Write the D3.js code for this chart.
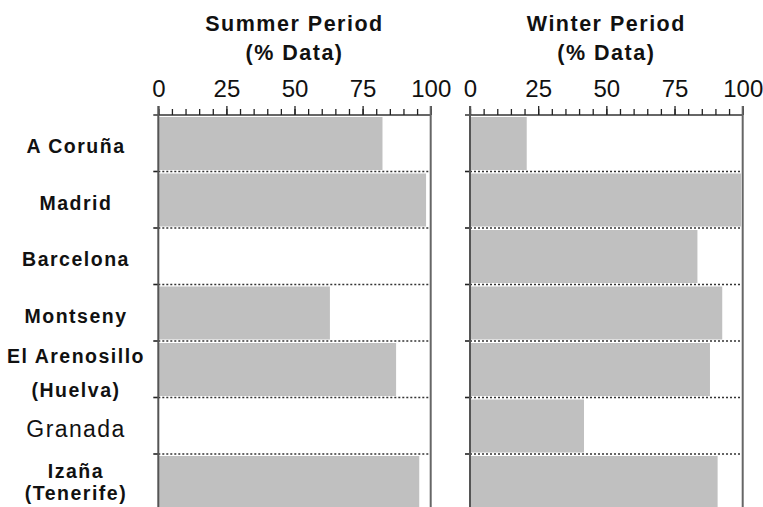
<!DOCTYPE html>
<html>
<head>
<meta charset="utf-8">
<script src="https://cdn.jsdelivr.net/npm/d3@7"></script>
<style>
  html, body { margin: 0; padding: 0; background: #fff; }
  svg { display: block; }
  text { font-family: "Liberation Sans", Arial, Helvetica, sans-serif; fill: #111; }
</style>
</head>
<body>
<svg id="chart" width="763" height="507"></svg>
<script>
// ---- data ----
const cities = ["A Coruña", "Madrid", "Barcelona", "Montseny", "El Arenosillo (Huelva)", "Granada", "Izaña (Tenerife)"];
const cityLines = [["A Coruña"], ["Madrid"], ["Barcelona"], ["Montseny"], ["El Arenosillo", "(Huelva)"], ["Granada"], ["Izaña", "(Tenerife)"]];
const cityBold = [true, true, true, true, true, false, true];
const summerValues = [82.3, 98.3, 0, 63, 87.3, 0, 95.8];
const winterValues = [20.8, 99.4, 83.4, 92.5, 88, 41.8, 90.8];
const panelTitles = [["Summer Period", "(% Data)"], ["Winter Period", "(% Data)"]];
const majorTicks = [0, 25, 50, 75, 100];
const minorTicks = d3.range(0, 101, 5);

// ---- layout ----
const svg = d3.select("#chart");
const yTop = 115, yBottom = 510.5;
const y = d3.scaleBand().domain(cities).range([yTop, yBottom]).padding(0);

const panels = [
  { values: summerValues, title: panelTitles[0], x: d3.scaleLinear().domain([0, 100]).range([158.3, 430.7]) },
  { values: winterValues, title: panelTitles[1], x: d3.scaleLinear().domain([0, 100]).range([470, 742.7]) }
];

panels.forEach((p, pi) => {
  const g = svg.append("g");
  const x = p.x;
  const x0 = x(0), x1 = x(100);

  // bars
  g.selectAll("rect.bar")
    .data(cities.map((c, i) => ({ c, v: p.values[i] })))
    .join("rect")
    .attr("class", "bar")
    .attr("x", x0)
    .attr("y", d => y(d.c) + 2)
    .attr("width", d => Math.max(0, x(d.v) - x0))
    .attr("height", y.bandwidth() - 3.5)
    .attr("fill", "#c0c0c0");

  // dotted row separators
  g.selectAll("line.sep")
    .data(cities.slice(1))
    .join("line")
    .attr("class", "sep")
    .attr("x1", x0).attr("x2", x1)
    .attr("y1", d => y(d)).attr("y2", d => y(d))
    .attr("stroke", "#333")
    .attr("stroke-width", 1.3)
    .attr("stroke-dasharray", "2,2");

  // left row ticks
  g.selectAll("line.rtick")
    .data(cities.slice(1))
    .join("line")
    .attr("class", "rtick")
    .attr("x1", x0 - 5).attr("x2", x0)
    .attr("y1", d => y(d)).attr("y2", d => y(d))
    .attr("stroke", "#222")
    .attr("stroke-width", 1.6);

  // top horizontal line
  g.append("line")
    .attr("x1", x0 - 5).attr("x2", x1)
    .attr("y1", yTop).attr("y2", yTop)
    .attr("stroke", "#333").attr("stroke-width", 1.6);

  // minor ticks (top axis)
  const minorAxis = d3.axisTop(x).tickValues(minorTicks).tickSize(6).tickSizeOuter(0).tickFormat("");
  const ga = g.append("g").attr("transform", `translate(0,${yTop})`).call(minorAxis);
  ga.select(".domain").remove();
  ga.selectAll(".tick line").attr("stroke", "#222").attr("stroke-width", 1.3);

  // major ticks + labels
  const majorAxis = d3.axisTop(x).tickValues(majorTicks).tickSize(9).tickSizeOuter(0).tickPadding(9.5).tickFormat(d3.format("d"));
  const gm = g.append("g").attr("transform", `translate(0,${yTop})`).call(majorAxis);
  gm.select(".domain").remove();
  gm.selectAll(".tick line").attr("stroke", "#222").attr("stroke-width", 1.3);
  gm.selectAll(".tick text")
    .attr("font-size", 24)
    .attr("font-family", "'Liberation Sans', Arial, sans-serif")
    .attr("fill", "#111");

  // left axis line and right border
  g.append("line")
    .attr("x1", x0).attr("x2", x0)
    .attr("y1", yTop - 9).attr("y2", yBottom)
    .attr("stroke", "#555").attr("stroke-width", 2);
  g.append("line")
    .attr("x1", x1).attr("x2", x1)
    .attr("y1", yTop - 9).attr("y2", yBottom)
    .attr("stroke", "#666").attr("stroke-width", 2);

  // title
  const cx = (x0 + x1) / 2;
  g.selectAll("text.title")
    .data(p.title)
    .join("text")
    .attr("class", "title")
    .attr("x", cx)
    .attr("y", (d, i) => 30.7 + i * 29.5)
    .attr("text-anchor", "middle")
    .attr("font-size", 21.5)
    .attr("font-weight", "bold")
    .attr("letter-spacing", "1.5px")
    .text(d => d);
});

// row labels
const labelX = 76;
cities.forEach((c, i) => {
  const lines = cityLines[i];
  const cy = y(c) + y.bandwidth() / 2;
  const isLast = i === cities.length - 1;
  const offs = lines.length === 1 ? [3] : (isLast ? [-11.5, 10.3] : [-12.9, 20.5]);
  const bold = cityBold[i];
  lines.forEach((ln, j) => {
    svg.append("text")
      .attr("x", labelX)
      .attr("y", cy + offs[j])
      .attr("dy", "0.36em")
      .attr("text-anchor", "middle")
      .attr("font-size", bold ? 19.5 : 23)
      .attr("font-weight", bold ? "bold" : "normal")
      .attr("letter-spacing", bold ? "1.5px" : "1.4px")
      .text(ln);
  });
});
</script>
</body>
</html>
